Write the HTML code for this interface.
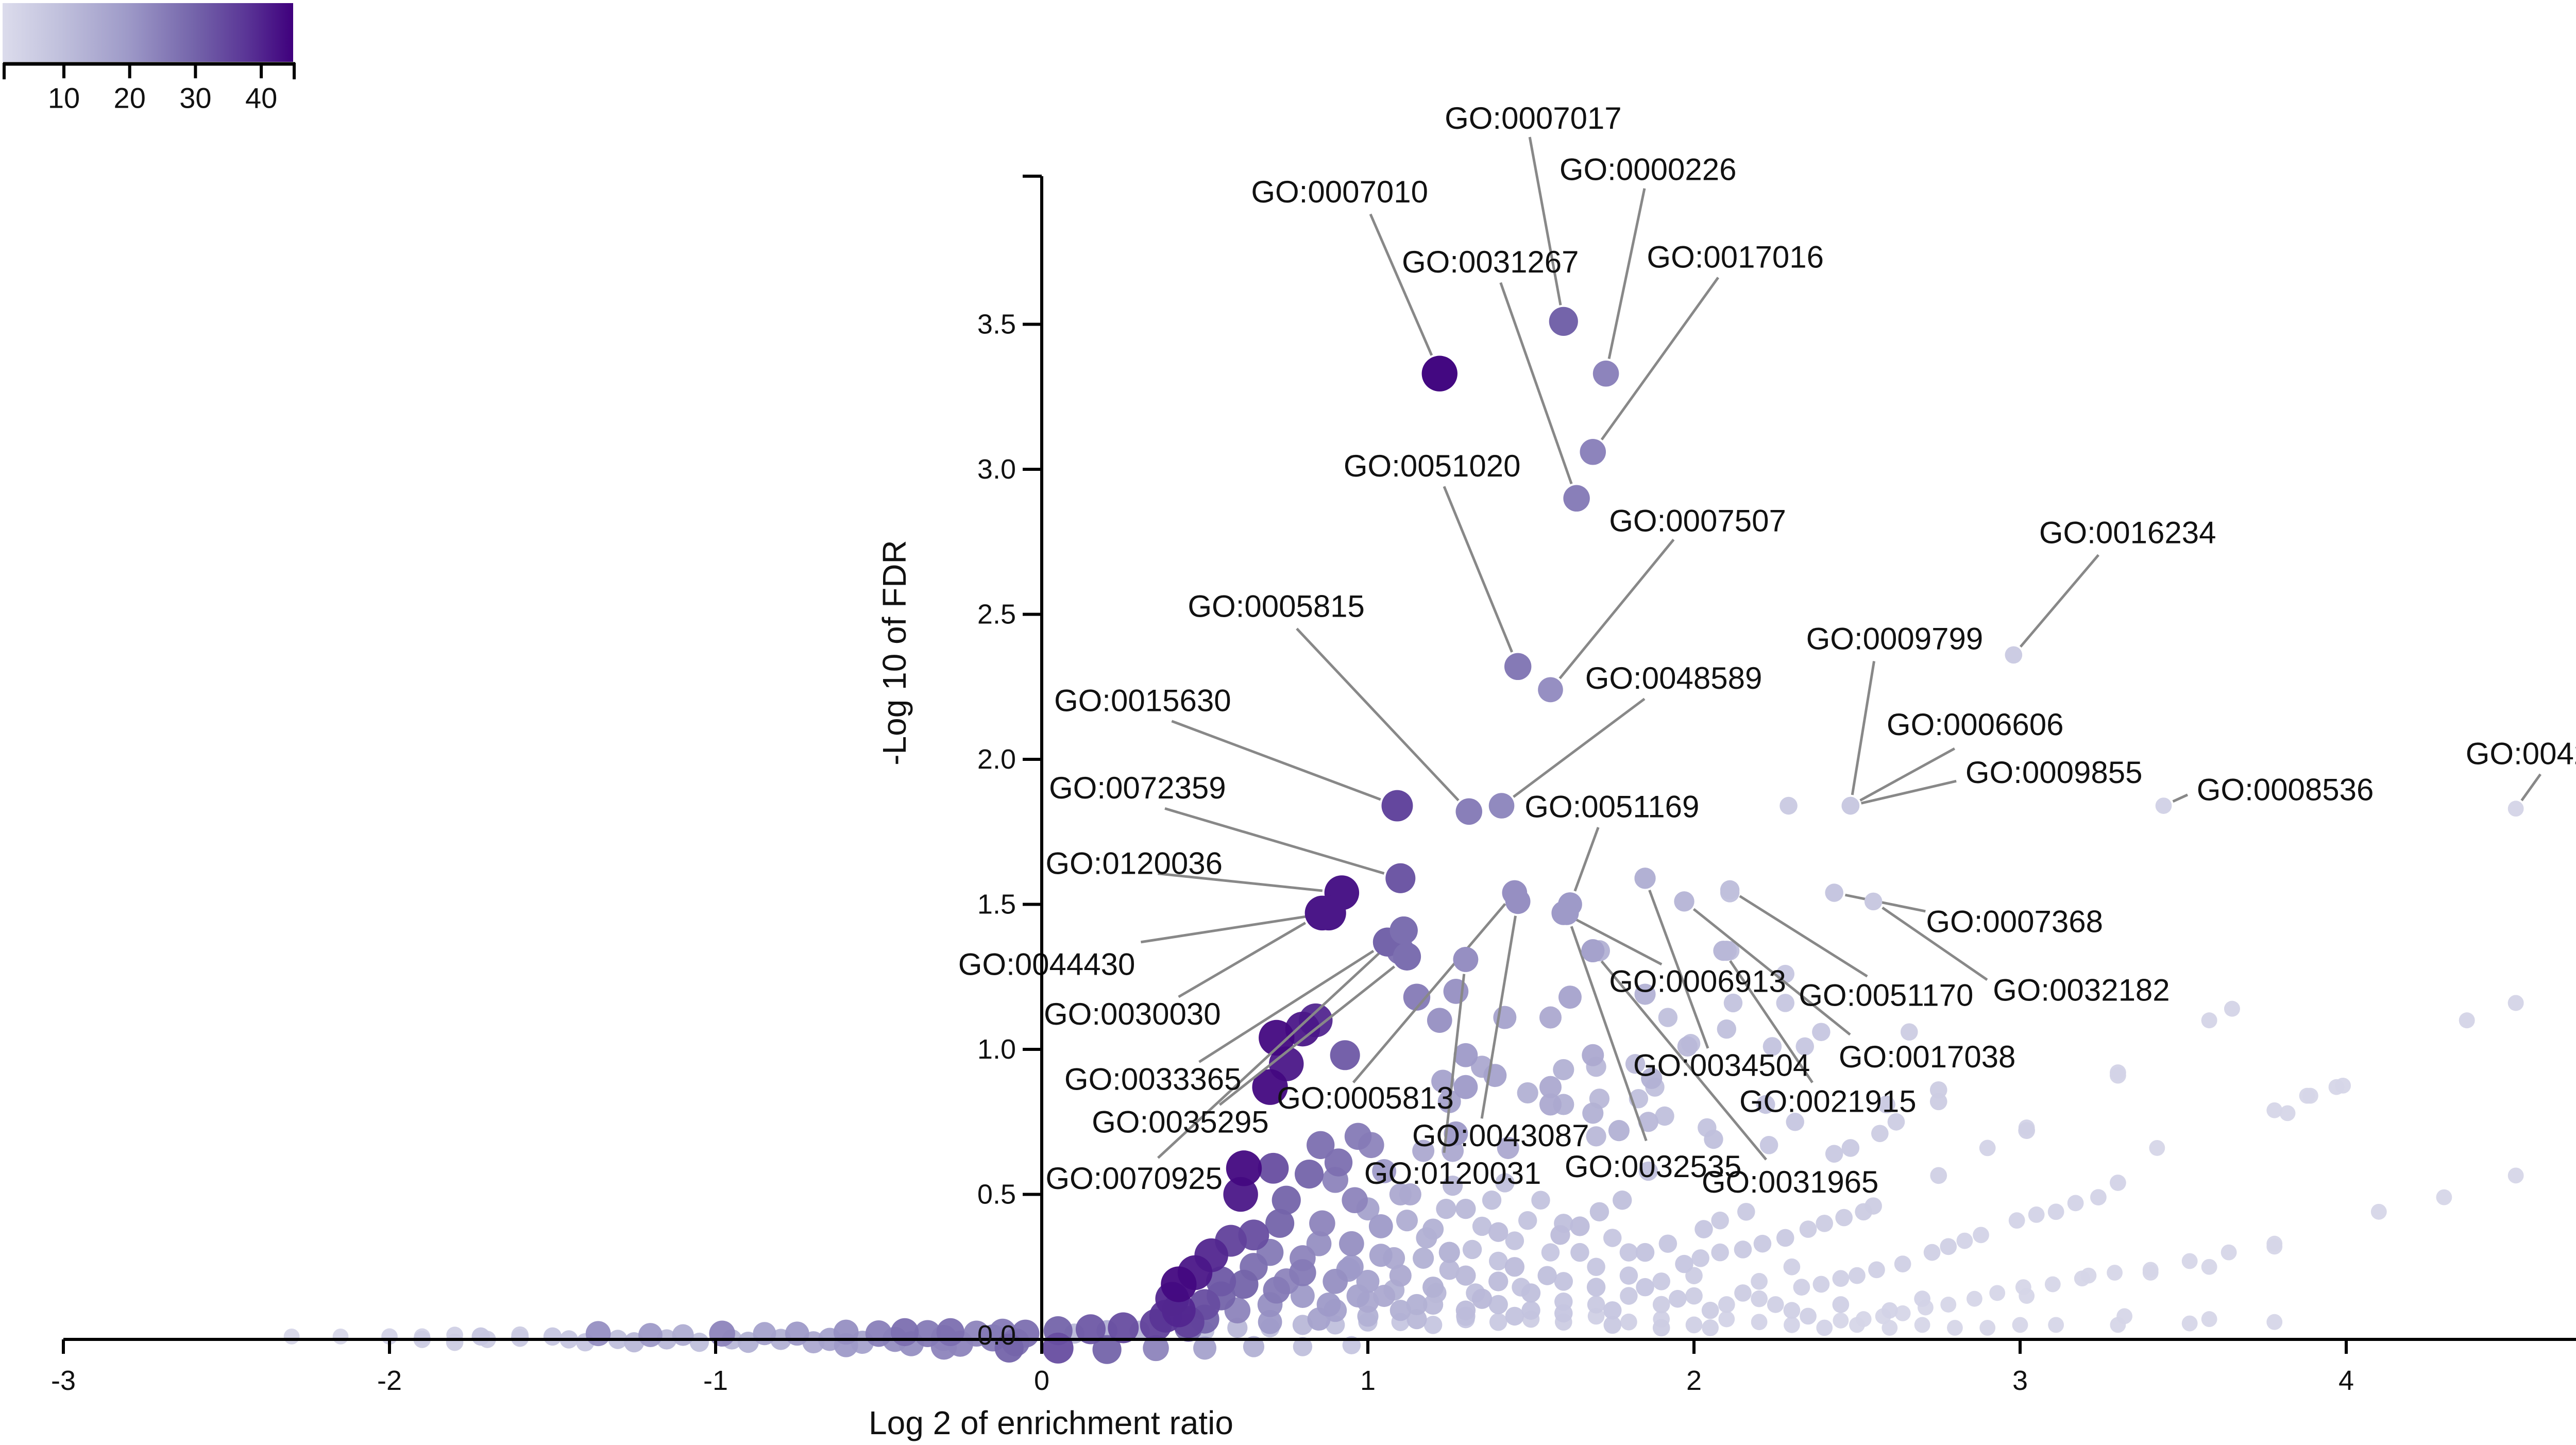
<!DOCTYPE html>
<html><head><meta charset="utf-8"><style>
html,body{margin:0;padding:0;background:#fff;overflow:hidden}
svg text{font-family:"Liberation Sans",sans-serif}
</style></head><body>
<svg id="chart" width="5213" height="2805" viewBox="0 0 5213 2805" xmlns="http://www.w3.org/2000/svg" style="display:block">
<defs><linearGradient id="cbg" x1="0" x2="1" y1="0" y2="0">
<stop offset="0" stop-color="#dcdcec"/><stop offset="0.2" stop-color="#c0c0dc"/><stop offset="0.43" stop-color="#9e9ac8"/><stop offset="0.66" stop-color="#7464aa"/><stop offset="0.84" stop-color="#5a3596"/><stop offset="1" stop-color="#3f007d"/></linearGradient></defs>
<g id="colorbar">
<rect x="5" y="6" width="564" height="114" fill="url(#cbg)"/>
</g>
<g id="points"></g>
<g id="labels"></g>
<g id="axes"></g>
</svg>
<script>
// ---- data ----
const ptX=[-2.30,-2.15,-2.0,-1.9,-1.8,-1.72,-1.6,-1.5,-1.36,-1.2,-1.1,-0.98,-0.85,-0.75,-0.6,-0.5,-0.42,-0.35,-0.28,-0.2,-0.12,-0.05,0.05,0.15,0.25,0.35,0.45,
0.1,0.2,0.3,0.5,0.6,0.7,0.8,0.9,1.0,1.1,1.2,1.3,1.4,1.5,1.6,1.7,1.8,1.9,2.0,2.1,2.2,2.3,2.4,2.5,2.6,2.7,2.8,2.9,3.0,3.11,3.3,3.52,3.78,
-0.6,-0.3,-0.1,0.05,0.2,0.35,0.5,0.65,0.8,0.95,
0.38,0.42,0.5,0.55,0.6,0.7,0.8,0.9,1.0,1.1,1.2,1.3,1.4,1.5,1.6,1.7,1.8,1.9,2.0,2.1,2.2,2.3,
1.6,1.7,1.8,1.65,1.75,1.9,2.0,2.2,2.3,
0.62,0.61,0.71,0.855,0.97,1.01,0.91,0.82,0.75,0.73,0.65,0.58,0.52,0.47,0.42,0.40,0.86,0.85,0.95,0.96,1.04,0.94,1.04,1.08,1.13,1.12,1.18,1.17,1.25,1.24,1.26,1.35,1.32,1.38,1.42,1.40,1.45,1.49,1.53,1.56,1.08,0.97,0.72,0.62,0.80,1.21,1.33,1.47,1.17,1.26,
1.23,1.25,1.35,1.49,1.60,1.60,
2.75,2.90,3.02,3.30,3.78,3.88,3.99,3.42,3.58,3.65,4.37,4.52,4.78,4.52,4.30,4.10,
2.99,3.05,3.11,3.17,3.24,3.30,2.88,2.83,2.78,2.73,2.64,2.56,2.50,2.45,2.39,2.33,
3.78,3.64,3.52,3.40,3.29,3.19,3.10,3.01,2.93,2.86,2.78,2.71,2.64,2.58,2.52,2.45,
2.55,2.52,2.46,2.40,2.35,2.28,2.21,2.15,2.08,2.02,1.97,
2.62,2.57,2.48,2.43,2.31,2.23,2.16,2.08,2.03,1.92,1.85,1.78,1.71,1.65,1.59,
2.75,2.66,2.39,2.34,2.28,2.12,1.92,1.99,1.82,1.88,1.83,1.71,1.70,1.71,2.11,1.91,2.04,1.70,1.86,
2.29,2.10,2.28,1.69,1.85,1.97,2.11,
1.11,1.06,1.10,1.30,1.15,1.27,1.22,1.42,1.56,1.62,1.85,0.84,0.80,0.72,0.75,0.70,0.93,
1.30,1.39,1.56,1.69,1.87,1.98,2.10,2.24,1.30,1.27,1.43,1.56,1.69,1.77,1.86,2.06,2.22,2.59,2.75,3.02,3.30,3.58,3.65,4.37,4.52,3.97,3.89,3.82,
3.32,4.79,3.78,3.58,3.40,3.21,3.02,3.58,
0.65,0.7,0.75,0.8,0.9,0.88,0.95,1.0,1.05,1.1,1.15,1.2,1.25,1.3,1.35,1.4,1.45,1.5,1.55,1.6,1.7,1.75,1.8,1.85,1.95,2.05,2.15,2.25,2.35,2.45,2.6,2.7,0.7,0.85,1.0,1.15,1.3,1.45,1.6,1.75,1.9,2.05,1.0,1.1,1.2,0.9,1.05,1.3,1.4,0.55,0.5,0.45,
-1.9,-1.8,-1.7,-1.6,-1.45,-1.4,-1.3,-1.25,-1.15,-1.05,-0.95,-0.9,-0.8,-0.7,-0.65,-0.55,-0.45,-0.4,-0.3,-0.25,-0.15,-0.08];
const ptY=[0.01,0.01,0.01,0.01,0.015,0.01,0.015,0.01,0.02,0.015,0.015,0.02,0.02,0.02,0.025,0.02,0.025,0.02,0.025,0.02,0.025,0.02,0.03,0.035,0.04,0.05,0.06,
0.02,0.03,0.03,0.03,0.04,0.04,0.05,0.05,0.06,0.06,0.05,0.07,0.06,0.07,0.06,0.08,0.06,0.07,0.05,0.07,0.06,0.05,0.04,0.05,0.04,0.05,0.04,0.04,0.05,0.05,0.05,0.055,0.06,
-0.02,-0.025,-0.03,-0.03,-0.035,-0.03,-0.03,-0.025,-0.025,-0.02,
0.08,0.1,0.12,0.15,0.1,0.12,0.15,0.1,0.13,0.1,0.12,0.1,0.12,0.1,0.13,0.12,0.15,0.12,0.15,0.12,0.14,0.1,
0.2,0.25,0.22,0.3,0.35,0.2,0.22,0.2,0.25,
0.59,0.50,0.59,0.67,0.70,0.67,0.61,0.57,0.48,0.40,0.36,0.34,0.29,0.23,0.19,0.14,0.40,0.33,0.33,0.48,0.39,0.24,0.29,0.28,0.50,0.41,0.35,0.28,0.24,0.45,0.53,0.39,0.31,0.48,0.54,0.27,0.34,0.41,0.48,0.30,0.17,0.15,0.17,0.19,0.23,0.16,0.16,0.18,0.65,0.65,
0.89,0.82,0.94,0.85,0.93,0.81,
0.565,0.66,0.73,0.92,0.79,0.84,0.875,0.66,1.10,1.14,1.10,1.16,0.66,0.565,0.49,0.44,
0.41,0.43,0.44,0.47,0.49,0.54,0.36,0.34,0.32,0.30,0.26,0.24,0.22,0.21,0.19,0.18,
0.33,0.30,0.27,0.24,0.23,0.21,0.19,0.18,0.16,0.14,0.12,0.11,0.09,0.08,0.07,0.065,
0.46,0.44,0.42,0.40,0.38,0.35,0.33,0.31,0.30,0.28,0.26,
0.75,0.71,0.66,0.64,0.75,0.67,0.44,0.41,0.38,0.33,0.30,0.48,0.44,0.39,0.36,
0.82,1.06,1.06,1.01,1.16,1.16,1.11,1.02,0.95,0.87,0.83,0.83,0.94,1.34,1.34,0.77,0.73,0.70,0.58,
1.84,1.34,1.26,1.34,1.59,1.51,1.54,
1.41,1.37,1.34,1.31,1.18,1.20,1.10,1.11,1.11,1.18,1.19,1.10,1.07,1.04,0.95,0.87,0.98,
0.98,0.91,0.87,0.98,0.90,1.01,1.07,1.01,0.87,0.71,0.66,0.81,0.78,0.72,0.75,0.69,0.81,0.81,0.86,0.72,0.91,1.10,1.14,1.10,1.16,0.87,0.84,0.78,
0.08,0.66,0.32,0.25,0.23,0.22,0.15,0.07,
0.25,0.3,0.2,0.28,0.2,0.12,0.25,0.2,0.15,0.22,0.12,0.18,0.3,0.22,0.14,0.2,0.25,0.16,0.22,0.4,0.18,0.1,0.3,0.18,0.14,0.1,0.16,0.12,0.08,0.12,0.1,0.14,0.06,0.07,0.08,0.07,0.08,0.08,0.09,0.05,0.04,0.04,0.45,0.5,0.38,0.55,0.58,0.45,0.37,0.2,0.07,0.04,
0,-0.01,0,0.005,0,-0.01,0,-0.01,0,-0.01,0,-0.01,0,-0.01,0,-0.01,0,-0.015,0.005,-0.015,0.005,-0.01];
const ptCount=[3,3,4,4,5,8,6,8,22,20,15,24,18,20,22,25,28,26,28,24,26,28,30,32,34,36,36,
12,14,12,10,12,10,12,10,10,8,8,8,7,6,6,5,5,5,5,4,4,4,4,3,3,3,3,3,3,3,3,3,3,
20,24,30,34,30,24,18,14,10,8,
38,40,34,30,24,22,20,18,16,14,12,11,10,9,8,7,7,6,6,5,5,5,
9,8,8,9,8,7,6,5,5,
44,42,34,28,26,24,28,30,30,30,34,36,40,42,44,40,24,22,22,24,20,20,18,16,16,15,14,14,12,12,12,10,10,10,10,9,9,9,9,8,14,18,26,30,26,12,10,9,16,16,
18,18,16,14,14,14,
5,4,4,4,3,3,3,3,3,3,3,3,3,3,3,3,
4,4,4,4,4,4,4,4,5,5,5,5,5,5,5,5,
3,3,3,3,3,3,3,3,3,3,3,3,3,3,3,3,
6,6,6,6,6,7,7,7,7,7,8,
6,6,7,7,8,8,7,7,8,8,9,10,10,11,11,
6,6,8,8,8,9,10,10,11,10,10,12,12,14,10,10,9,12,10,
7,12,8,18,14,12,10,
28,30,28,22,26,22,22,18,16,18,14,40,42,44,42,44,32,
20,18,16,16,14,12,10,9,20,20,16,16,14,14,12,10,9,7,6,5,4,3,3,3,3,3,3,3,
3,3,3,3,3,3,3,3,
28,26,24,24,22,20,20,18,16,16,14,14,14,12,12,11,11,10,10,10,9,8,8,8,7,6,6,5,5,5,4,4,20,18,14,12,10,9,8,7,6,5,18,16,14,24,20,12,11,32,30,28,
6,6,6,7,8,8,10,12,12,10,12,14,14,16,18,18,22,22,24,24,26,28];
// labelled GO terms
const goNames=["GO:0007017","GO:0000226","GO:0007010","GO:0031267","GO:0017016","GO:0051020","GO:0007507","GO:0016234","GO:0005815","GO:0009799","GO:0048589","GO:0015630","GO:0006606","GO:0009855","GO:0072359","GO:0051169","GO:0008536","GO:0042405","GO:0120036","GO:0007368","GO:0044430","GO:0006913","GO:0051170","GO:0032182","GO:0030030","GO:0017038","GO:0034504","GO:0033365","GO:0005813","GO:0021915","GO:0035295","GO:0043087","GO:0032535","GO:0070925","GO:0120031","GO:0031965"];
const goX=[1.60,1.73,1.22,1.64,1.69,1.46,1.56,2.98,1.31,2.48,1.41,1.09,2.48,2.48,1.10,1.62,3.44,4.52,0.92,2.43,0.88,1.60,2.11,2.55,0.86,1.97,1.85,1.06,1.45,2.09,1.12,1.46,1.61,1.11,1.30,1.69];
const goY=[3.51,3.33,3.33,2.90,3.06,2.32,2.24,2.36,1.82,1.84,1.84,1.84,1.84,1.84,1.59,1.50,1.84,1.83,1.54,1.54,1.47,1.47,1.55,1.51,1.47,1.51,1.59,1.37,1.54,1.34,1.32,1.51,1.47,1.41,1.31,1.34];
const goCount=[30,24,44,25,24,26,22,6,25,7,23,35,7,7,32,20,4,3,42,8,42,20,10,7,42,12,14,30,22,12,28,22,20,28,22,18];
const xTicks=[-3,-2,-1,0,1,2,3,4,5];
const yTicks=[0,0.5,1,1.5,2,2.5,3,3.5];
const yTickLabels=["0.0","0.5","1.0","1.5","2.0","2.5","3.0","3.5"];
const cbTicks=[10,20,30,40];
// ---- layout (display-scale coords of label text centre & leader start) ----
const S=3.325;
const labelLayout=[[895,69,893,80],[962,99,960,110],[782,112,800,125],[870,153,876,165],[1013,150,1003,162],[836,272,843,284],[991,304,977,315],[1242,311,1225,324],[745,354,757,367],[1106,373,1094,386],[977,396,960,408],[667,409,684,421],[1153,423,1141,437],[1199,451,1142,456],[664,460,680,472],[941,471,933,483],[1334,461,1277,464],[1491,440,1483,452],[662,504,676,510],[1176,538,1124,532],[611,563,666,550],[991,573,970,563],[1101,581,1090,570],[1215,578,1160,572],[661,592,688,582],[1125,617,1080,604],[1005,622,997,612],[673,630,700,620],[797,641,790,632],[1067,643,1058,632],[689,655,712,645],[876,663,865,653],[965,681,961,666],[662,688,676,676],[848,685,843,673],[1045,690,1031,677]];
const NS="http://www.w3.org/2000/svg";
function X(v){return 2022+v*633;}
function Y(v){return 2600-v*563;}
function R(c){return 14+c*0.47;}
const stops=[[1,[220,220,236]],[10,[192,192,220]],[20,[158,154,200]],[30,[116,100,170]],[38,[90,53,150]],[45,[63,0,125]]];
function col(v){v=Math.max(1,Math.min(45,v));for(let i=0;i<stops.length-1;i++){const a=stops[i],b=stops[i+1];if(v<=b[0]){const t=(v-a[0])/(b[0]-a[0]);return 'rgb('+a[1].map((q,k)=>Math.round(q+(b[1][k]-q)*t)).join(',')+')';}}return 'rgb(63,0,125)';}
function mk(tag,attrs,parent){const e=document.createElementNS(NS,tag);for(const k in attrs)e.setAttribute(k,attrs[k]);parent.appendChild(e);return e;}
const gP=document.getElementById('points');
const order=ptX.map((_,i)=>i).sort((a,b)=>ptCount[a]-ptCount[b]);
order.forEach(i=>{const c=mk('circle',{cx:X(ptX[i]),cy:Y(ptY[i]),r:R(ptCount[i]),fill:col(ptCount[i]),'fill-opacity':0.95},gP);

});
const gL=document.getElementById('labels');
goNames.forEach((n,i)=>{const L=labelLayout[i];const px=X(goX[i]),py=Y(goY[i]);const sx=L[2]*S,sy=L[3]*S;
const dx=px-sx,dy=py-sy,d=Math.hypot(dx,dy),rr=R(goCount[i])+4;
const ln=mk('line',{x1:sx,y1:sy,x2:px-dx/d*rr,y2:py-dy/d*rr,stroke:'#888','stroke-width':5},gL);

});
goNames.forEach((n,i)=>{const c=mk('circle',{cx:X(goX[i]),cy:Y(goY[i]),r:R(goCount[i]),fill:col(goCount[i])},gL);

});
goNames.forEach((n,i)=>{const L=labelLayout[i];const t=mk('text',{x:L[0]*S,y:L[1]*S,'text-anchor':'middle','dominant-baseline':'central','font-size':60,fill:'#111'},gL);t.textContent=n;

});
const gA=document.getElementById('axes');
let a=mk('line',{x1:123,y1:2600,x2:5192,y2:2600,stroke:'#000','stroke-width':6},gA);


a=mk('line',{x1:2022,y1:342,x2:2022,y2:2600,stroke:'#000','stroke-width':6},gA);


a=mk('line',{x1:1985,y1:342,x2:2022,y2:342,stroke:'#000','stroke-width':6},gA);


xTicks.forEach(v=>{const l=mk('line',{x1:X(v),y1:2600,x2:X(v),y2:2628,stroke:'#000','stroke-width':6},gA);


const t=mk('text',{x:X(v),y:2680,'text-anchor':'middle','dominant-baseline':'central','font-size':54,fill:'#111'},gA);t.textContent=String(v);

});
yTicks.forEach((v,i)=>{const l=mk('line',{x1:1985,y1:Y(v),x2:2022,y2:Y(v),stroke:'#000','stroke-width':6},gA);


const t=mk('text',{x:1972,y:Y(v)-(v===0?8:0),'text-anchor':'end','dominant-baseline':'central','font-size':54,fill:'#111'},gA);t.textContent=yTickLabels[i];

});
let tt=mk('text',{x:2040,y:2762,'text-anchor':'middle','dominant-baseline':'central','font-size':64,fill:'#111'},gA);tt.textContent='Log 2 of enrichment ratio';


tt=mk('text',{x:1736,y:1267,'text-anchor':'middle','dominant-baseline':'central','font-size':64,fill:'#111',transform:'rotate(-90 1736 1267)'},gA);tt.textContent='-Log 10 of FDR';


// colour legend axis
const gC=document.getElementById('colorbar');
function CB(v){return 124+(v-10)*12.77;}
a=mk('line',{x1:6,y1:124,x2:573,y2:124,stroke:'#000','stroke-width':7},gC);


[8,571].forEach(x=>{const l=mk('line',{x1:x,y1:122,x2:x,y2:154,stroke:'#000','stroke-width':6},gC);

});
cbTicks.forEach(v=>{const l=mk('line',{x1:CB(v),y1:122,x2:CB(v),y2:152,stroke:'#000','stroke-width':6},gC);


const t=mk('text',{x:CB(v),y:190,'text-anchor':'middle','dominant-baseline':'central','font-size':56,fill:'#111'},gC);t.textContent=String(v);

});
</script>
</body></html>
